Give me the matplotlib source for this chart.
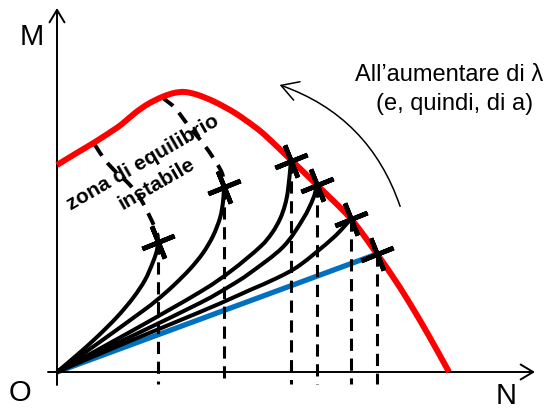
import numpy as np
import matplotlib.pyplot as plt
from matplotlib.path import Path
from matplotlib.patches import FancyArrowPatch, PathPatch

plt.rcParams['font.family'] = ['Liberation Sans', 'DejaVu Sans']

# limit domain (red), N vs M
red_N = [0, 18, 38, 55, 65, 78, 91, 105, 117, 128, 141, 158, 178, 198, 210, 234, 260, 294, 320, 336, 352, 372, 392]
red_M = [207, 218, 230, 241, 248, 259, 268, 275, 279, 280, 277, 270, 259, 245, 235, 212, 187, 153, 118, 95, 70, 36, 0]

# load paths from O, one per value of lambda
paths_N = [
    [0, 20, 40, 60, 76, 88, 96, 100, 101],
    [0, 40, 83, 100, 116, 133, 146, 156, 163, 166, 167],
    [0, 73, 143, 174, 203, 215, 223, 228, 231, 234],
    [0, 73, 143, 173, 193, 226, 246, 256, 260],
    [0, 73, 143, 173, 193, 220, 243, 276, 294],
]
paths_M = [
    [0, 17, 35, 55, 74, 92, 110, 122, 130],
    [0, 28, 59, 72, 86, 103, 119, 136, 154, 170, 185],
    [0, 40, 80, 101, 125, 139, 153, 167, 182, 211],
    [0, 35, 69, 86, 99, 125, 153, 173, 187],
    [0, 31, 60, 73, 82, 94, 107, 134, 153],
]

# first order path (blue)
lin_N = [0, 320]
lin_M = [0, 118]

# failure points
fail_N = [101, 167, 234, 260, 294, 320]
fail_M = [130, 185, 211, 187, 153, 118]

# borders of the unstable zone
zone1_N = [38, 48, 60, 72, 83, 93, 100, 101]
zone1_M = [227, 212, 199, 188, 174, 155, 139, 130]
zone2_N = [106, 118, 131, 145, 155, 165, 167]
zone2_M = [274, 264, 247, 230, 216, 199, 185]


def smooth_path(xs, ys):
    # catmull-rom through the read points, drawn as cubic beziers
    p = np.column_stack([xs, ys]).astype(float)
    ext = np.vstack([2 * p[0] - p[1], p, 2 * p[-1] - p[-2]])
    verts = [p[0]]
    codes = [Path.MOVETO]
    for i in range(1, len(ext) - 2):
        c1 = ext[i] + (ext[i + 1] - ext[i - 1]) / 6
        c2 = ext[i + 1] - (ext[i + 2] - ext[i]) / 6
        verts += [c1, c2, ext[i + 1]]
        codes += [Path.CURVE4] * 3
    return Path(verts, codes)


def curve(ax, xs, ys, **kw):
    ax.add_patch(PathPatch(smooth_path(xs, ys), facecolor='none', capstyle='butt', **kw))


fig = plt.figure(figsize=(5.59, 4.12), dpi=100)
ax = fig.add_axes([0, 0, 1, 1])
ax.set_xlim(-57, 502)
ax.set_ylim(-40, 372)
ax.axis('off')

# axes with arrows
ax.annotate('', xy=(0, 364), xytext=(0, -13),
            arrowprops=dict(arrowstyle='->,head_length=0.45,head_width=0.27', lw=1.4,
                            color='black', mutation_scale=20, shrinkA=0, shrinkB=0))
ax.annotate('', xy=(478, 0), xytext=(-9, 0),
            arrowprops=dict(arrowstyle='->,head_length=0.45,head_width=0.27', lw=1.4,
                            color='black', mutation_scale=20, shrinkA=0, shrinkB=0))

ax.text(-25, 335, 'M', fontsize=21, ha='center', va='center')
ax.text(-37, -21, 'O', fontsize=21, ha='center', va='center')
ax.text(449, -24, 'N', fontsize=21, ha='center', va='center')

ax.plot(lin_N, lin_M, color='#0070C0', lw=3.8, solid_capstyle='butt', zorder=2)
for n, m in zip(paths_N, paths_M):
    curve(ax, n, m, edgecolor='black', lw=2.9, zorder=3)

for n, m in zip(fail_N, fail_M):
    ax.plot([n, n], [m, -12], color='black', lw=2.2, dashes=(4, 2.5), zorder=2)

curve(ax, zone1_N, zone1_M, edgecolor='black', lw=2.8, linestyle=(0, (3.3, 2.3)), zorder=3)
curve(ax, zone2_N, zone2_M, edgecolor='black', lw=2.8, linestyle=(0, (3.3, 2.3)), zorder=3)

curve(ax, red_N, red_M, edgecolor='#FF0000', lw=4.3, zorder=4)

ax.plot(fail_N, fail_M, linestyle='none', marker=(4, 2, 22), markersize=25,
        markeredgewidth=3.4, color='black', zorder=5)

ax.text(86, 209, 'zona di equilibrio', fontsize=15, fontweight='bold', rotation=30,
        ha='center', va='center', rotation_mode='anchor', zorder=6)
ax.text(100, 188, 'instabile', fontsize=15, fontweight='bold', rotation=30,
        ha='center', va='center', rotation_mode='anchor', zorder=6)

arr = FancyArrowPatch((344, 163), (220, 288), connectionstyle='arc3,rad=0.25',
                      arrowstyle='->,head_length=0.6,head_width=0.35', mutation_scale=20,
                      lw=1.1, color='black')
ax.add_patch(arr)

ax.text(392, 297, 'All\u2019aumentare di \u03bb', fontsize=17, ha='center', va='center')
ax.text(398, 268, '(e, quindi, di a)', fontsize=17, ha='center', va='center')

fig.savefig('out.png', dpi=100)
